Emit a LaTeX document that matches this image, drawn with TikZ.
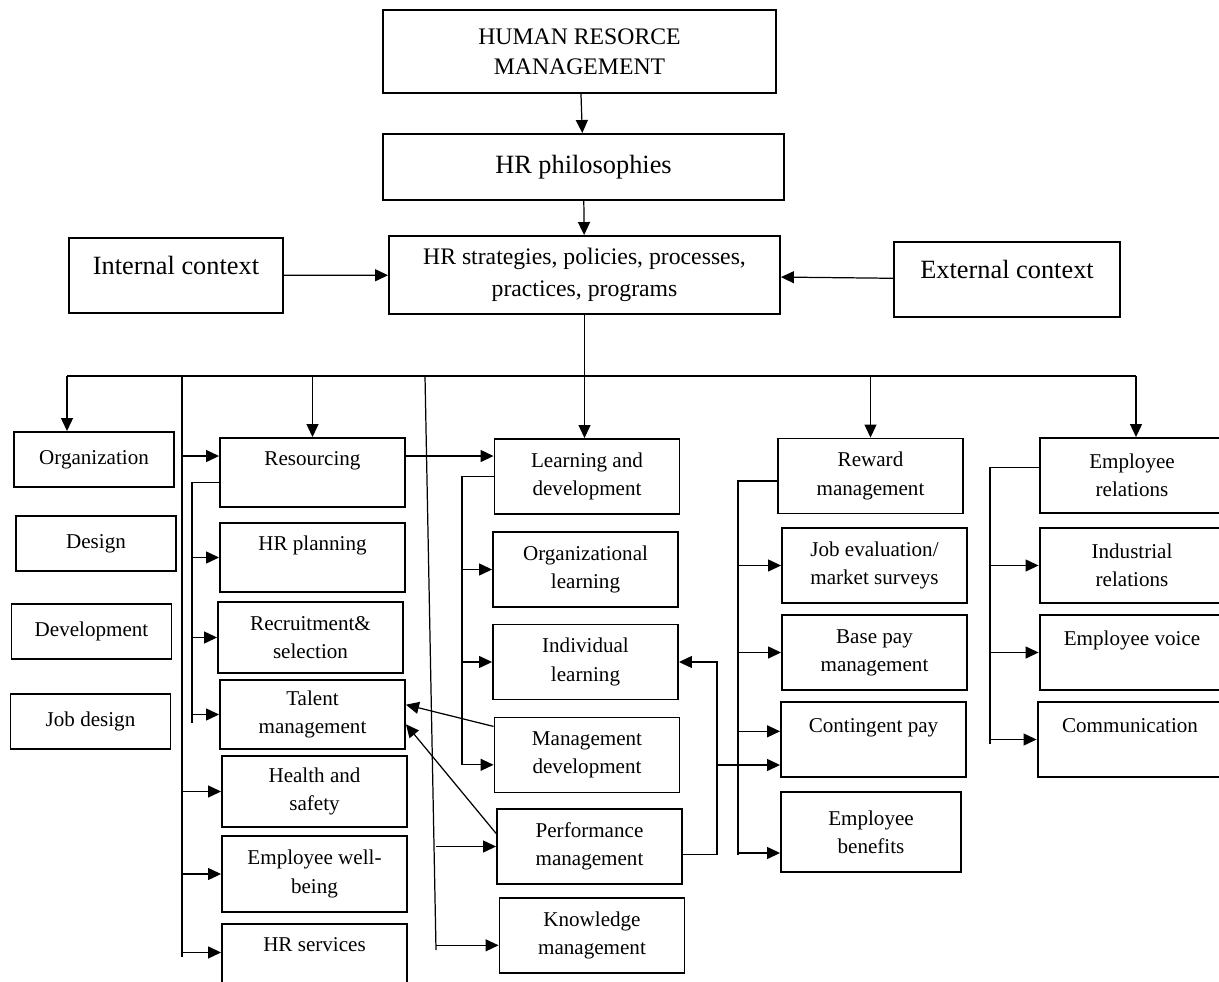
\documentclass[tikz,border=0pt]{standalone}
\usepackage{fontspec}
\setmainfont{Liberation Serif}
\usetikzlibrary{arrows.meta}

\begin{document}
\begin{tikzpicture}[x=0.02cm, y=-0.02cm]
	% Styles
	\tikzstyle{box} = [draw, rectangle, line width=1.1pt, inner sep=0pt, align=center, font=\fontsize{12}{16}\selectfont]
	\tikzstyle{lbox} = [box, minimum width=3.2cm, minimum height=1.1cm]
	\tikzstyle{cbox} = [box, minimum width=3.7cm, minimum height=1.5cm]
	\tikzstyle{topbox} = [box, font=\fontsize{13.5}{17}\selectfont]
	\tikzstyle{bigbox} = [box, font=\fontsize{15}{18}\selectfont]
	\tikzstyle{conn} = [line width=0.7pt]
	\tikzstyle{arrow} = [line width=0.7pt, -{Triangle[length=0.26cm, width=0.24cm]}]

	\useasboundingbox (0,0) rectangle (1219,982);

	% Nodes
	\node (hrm) [topbox, minimum width=7.86cm, minimum height=1.66cm] at (579.5,51.5) {HUMAN RESORCE\\MANAGEMENT};
	\node (phil) [bigbox, minimum width=8.02cm, minimum height=1.32cm] at (583.5,167) {HR philosophies};
	\node (strat) [topbox, font=\fontsize{13.5}{18}\selectfont, minimum width=7.82cm, minimum height=1.56cm] at (584.5,275) {HR strategies, policies, processes,\\practices, programs};
	\node (intc) [bigbox, minimum width=4.28cm, minimum height=1.5cm] at (176,275.5) {Internal context\\[-6pt]~};
	\node (extc) [bigbox, minimum width=4.52cm, minimum height=1.5cm] at (1007,279.5) {External context\\[-6pt]~};

	\node (org) [lbox] at (94,459.5) {Organization};
	\node (des) [lbox] at (96,543.5) {Design};
	\node (dev) [lbox] at (91.5,631.5) {Development};
	\node (jobd) [lbox] at (90.5,721.5) {Job design};

	\node (res) [cbox, minimum height=1.38cm] at (312.5,472.5) {Resourcing\\~};
	\node (hrp) [cbox, minimum height=1.38cm] at (312.5,557.5) {HR planning\\~};
	\node (rec) [cbox, minimum height=1.42cm] at (310.5,637.5) {Recruitment\&\\selection};
	\node (tal) [cbox, minimum height=1.38cm] at (312.5,714.5) {Talent\\management};
	\node (hs) [cbox, minimum height=1.42cm] at (314.5,791.5) {Health and\\safety};
	\node (wb) [cbox, minimum height=1.52cm] at (314.5,874) {Employee well-\\being};
	\node (hrs) [cbox, minimum height=1.4cm] at (314.5,959) {HR services\\~};

	\node (ld) [cbox] at (587,476.5) {Learning and\\development};
	\node (ol) [cbox] at (585.5,569.5) {Organizational\\learning};
	\node (il) [cbox] at (585.5,662) {Individual\\learning};
	\node (md) [cbox] at (587,755) {Management\\development};
	\node (pm) [cbox] at (589.5,846.5) {Performance\\management};
	\node (km) [cbox] at (592,935.5) {Knowledge\\management};

	\node (rew) [cbox] at (870.5,476) {Reward\\management};
	\node (je) [cbox] at (874.5,565.5) {Job evaluation/\\market surveys};
	\node (bp) [cbox] at (874.5,652.5) {Base pay\\management};
	\node (cp) [cbox] at (873.5,739.5) {Contingent pay\\~};
	\node (eb) [cbox, minimum width=3.6cm, minimum height=1.6cm] at (871,832) {Employee\\benefits};

	\node (er) [cbox] at (1132,475.5) {Employee\\relations};
	\node (ir) [cbox] at (1132,565.5) {Industrial\\relations};
	\node (ev) [cbox] at (1132,652.5) {Employee voice\\~};
	\node (com) [cbox] at (1130,739.5) {Communication\\~};

	% Connections
	\draw [arrow] (hrm) -- (phil);
	\draw [arrow] (phil) -- (strat);
	\draw [arrow] (intc) -- (strat);
	\draw [arrow] (extc) -- (strat);

	\coordinate (busL) at (67,376);
	\coordinate (busR) at (1136,376);
	\draw [conn] (busL) -- (busR);
	\draw [arrow] (strat.south) -- (strat.south |- ld.north);
	\draw [arrow] (busL) -- (busL |- org.north);
	\draw [arrow] (res.north |- busL) -- (res.north);
	\draw [arrow] (rew.north |- busL) -- (rew.north);
	\draw [arrow] (busR) -- (busR |- er.north);

	% resourcing
	\coordinate (tA) at (182,376);
	\coordinate (tAend) at (182,957);
	\draw [conn] (tA) -- (tAend);
	\draw [arrow] (tA |- res.170) -- (res.170);
	\foreach \n in {hs, wb} \draw [arrow] (tA |- \n.west) -- (\n.west);
	\draw [arrow] (tA |- hrs.176) -- (hrs.176);
	\coordinate (tB) at (192,723);
	\draw [conn] (res.186) -| (tB);
	\foreach \n in {hrp, rec, tal} \draw [arrow] (tB |- \n.west) -- (\n.west);

	% learning and development
	\coordinate (tC) at (425,376);
	\coordinate (tCend) at (436,950);
	\draw [conn] (tC) -- (tCend);
	\draw [arrow] (tCend |- pm.west) -- (pm.west);
	\draw [arrow] (tCend |- km.186) -- (km.186);
	\draw [arrow] (res.10) -- (res.10 -| ld.west);
	\coordinate (tD) at (462,765);
	\draw [conn] (ld.west) -| (tD);
	\foreach \n in {ol, il} \draw [arrow] (tD |- \n.west) -- (\n.west);
	\draw [arrow] (tD |- md.186) -- (md.186);
	\draw [arrow] (md.163) -- (tal.6);
	\draw [arrow] (pm.172) -- (tal.354);
	\coordinate (tE) at (717,765);
	\draw [arrow] (pm.355) -| (tE |- il.east) -- (il.east);
	\draw [arrow] (tE) -- (tE -| cp.west);

	% reward
	\coordinate (tF) at (738,855);
	\draw [conn] (rew.183) -| (tF);
	\foreach \n in {je, bp} \draw [arrow] (tF |- \n.west) -- (\n.west);
	\draw [arrow] (tF |- cp.175) -- (cp.175);
	\draw [arrow] (tF |- eb.193) -- (eb.193);

	% employee relations
	\coordinate (tG) at (990,744);
	\draw [conn] (er.175) -| (tG);
	\foreach \n in {ir, ev, com} \draw [arrow] (tG |- \n.west) -- (\n.west);
\end{tikzpicture}
\end{document}
